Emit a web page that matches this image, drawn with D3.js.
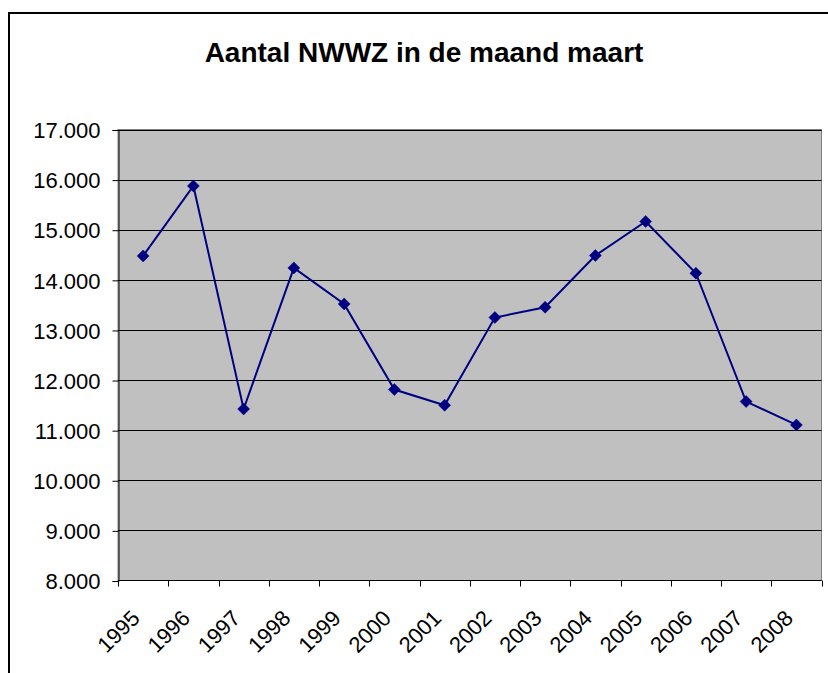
<!DOCTYPE html>
<html><head><meta charset="utf-8">
<script src="https://cdn.jsdelivr.net/npm/d3@7"></script>
<style>
html,body{margin:0;padding:0;background:#fff;}
svg{display:block;}
</style></head>
<body>
<svg id="chart" width="828" height="673"></svg>
<script>
const title = "Aantal NWWZ in de maand maart";
const years = ["1995","1996","1997","1998","1999","2000","2001","2002","2003","2004","2005","2006","2007","2008"];
const values = [14477,15874,11423,14238,13519,11810,11497,13248,13453,14485,15164,14132,11571,11104];
const yTicks = [8000,9000,10000,11000,12000,13000,14000,15000,16000,17000];

const svg = d3.select("#chart");
const W = 828, H = 673;
const plot = {left:118, right:821.5, top:129.5, bottom:580.5};

// outer chart border
svg.append("path")
  .attr("d", `M9,${H} L9,13 L${W+2},13`)
  .attr("fill","none").attr("stroke","#000").attr("stroke-width",2);

// title
svg.append("text")
  .attr("x", 424).attr("y", 62)
  .attr("text-anchor","middle")
  .attr("font-family","'Liberation Sans', Arial, sans-serif")
  .attr("font-weight","bold").attr("font-size",28)
  .attr("fill","#000")
  .text(title);

const x = d3.scaleBand().domain(years).range([plot.left, plot.right]).paddingInner(0).paddingOuter(0);
const y = d3.scaleLinear().domain([8000,17000]).range([plot.bottom, plot.top]);

// plot background
svg.append("rect")
  .attr("x", plot.left).attr("y", plot.top)
  .attr("width", plot.right-plot.left).attr("height", plot.bottom-plot.top)
  .attr("fill","#c0c0c0").attr("stroke","#808080").attr("stroke-width",1);

// gridlines
svg.append("g").selectAll("line").data(yTicks.filter(t=>t>8000))
  .join("line")
  .attr("x1", plot.left).attr("x2", plot.right)
  .attr("y1", d=>Math.round(y(d))+0.5).attr("y2", d=>Math.round(y(d))+0.5)
  .attr("stroke","#000").attr("stroke-width",1);

const loc = d3.formatLocale({decimal:",", thousands:".", grouping:[3], currency:["",""]});
const fmt = loc.format(",d");

// y axis
const yAxis = d3.axisLeft(y).tickValues(yTicks).tickFormat(fmt).tickSize(6).tickPadding(12);
const gy = svg.append("g").attr("transform",`translate(${plot.left+0.5},0.5)`).call(yAxis);
gy.select(".domain").attr("stroke","#000");
gy.selectAll(".tick line").attr("stroke","#000");
gy.selectAll(".tick text")
  .attr("font-family","'Liberation Sans', Arial, sans-serif")
  .attr("font-size",22).attr("fill","#000").attr("dy","0.35em");

// x axis: ticks between categories
const boundaries = years.map(d=>x(d)).concat([plot.right]);
const gx = svg.append("g");
gx.append("line").attr("x1",plot.left).attr("x2",plot.right)
  .attr("y1",plot.bottom).attr("y2",plot.bottom).attr("stroke","#000");
gx.selectAll("line.tk").data(boundaries).join("line").attr("class","tk")
  .attr("x1",d=>Math.round(d)+0.5).attr("x2",d=>Math.round(d)+0.5)
  .attr("y1",plot.bottom).attr("y2",plot.bottom+6).attr("stroke","#000");
gx.selectAll("text").data(years).join("text")
  .attr("transform", d=>`translate(${x(d)+x.bandwidth()/2-2},${plot.bottom+39}) rotate(-45)`)
  .attr("text-anchor","end")
  .attr("font-family","'Liberation Sans', Arial, sans-serif")
  .attr("font-size",22).attr("fill","#000")
  .text(d=>d);

// line
const cx = d=>x(d)+x.bandwidth()/2;
svg.append("path").datum(years.map((d,i)=>[d,values[i]]))
  .attr("d", d3.line().x(d=>cx(d[0])).y(d=>y(d[1])))
  .attr("fill","none").attr("stroke","#000080").attr("stroke-width",2);

// markers
svg.append("g").selectAll("path").data(years.map((d,i)=>[d,values[i]]))
  .join("path")
  .attr("transform", d=>`translate(${cx(d[0])},${y(d[1])})`)
  .attr("d","M0,-6L6,0L0,6L-6,0Z")
  .attr("fill","#000080").attr("stroke","#000080").attr("stroke-width",0.5);
</script>
</body></html>
